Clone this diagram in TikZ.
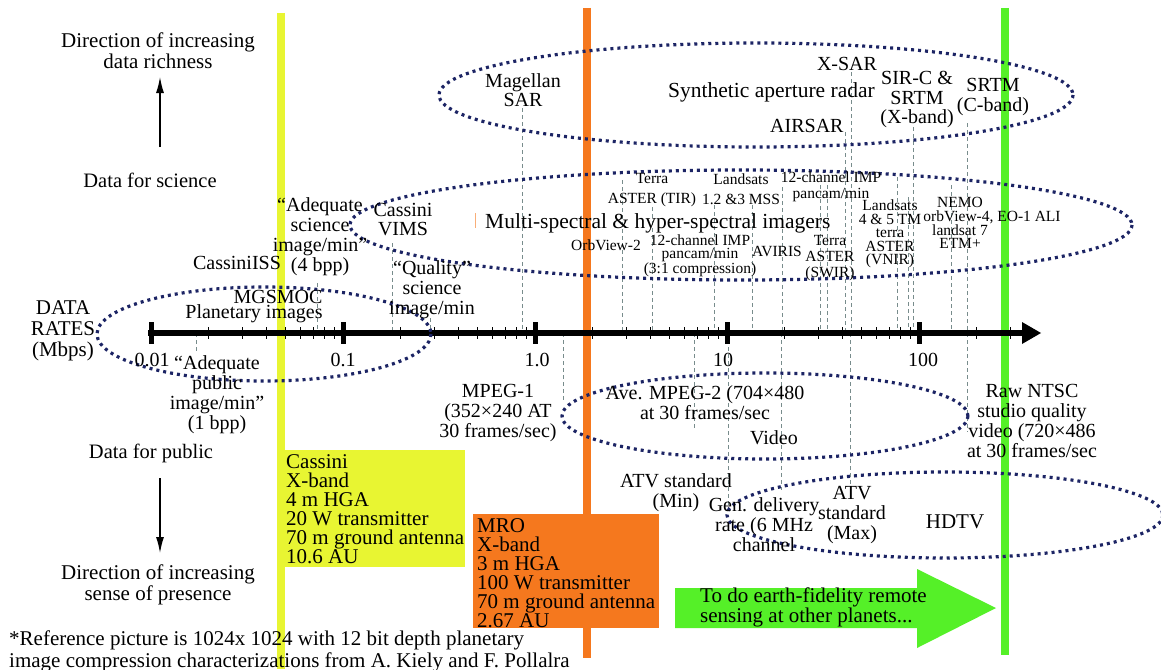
\documentclass[tikz,border=0pt]{standalone}
\usepackage{fontspec}
\setmainfont{Liberation Serif}
\usetikzlibrary{arrows.meta}
\definecolor{navy}{RGB}{28,36,100}
\definecolor{ylw}{RGB}{232,245,50}
\definecolor{org}{RGB}{245,120,30}
\definecolor{grn}{RGB}{85,240,40}
\definecolor{gridc}{RGB}{120,140,140}
\begin{document}
\begin{tikzpicture}[x=1pt,y=-1pt,
  lab/.style={inner sep=0pt, align=center, font=\fontsize{20}{20}\selectfont},
  labl/.style={inner sep=0pt, align=left, font=\fontsize{21}{19}\selectfont},
  big/.style={inner sep=0pt, font=\fontsize{21.5}{21}\selectfont},
  sm/.style={inner sep=0pt, align=center, font=\fontsize{15.5}{14}\selectfont},
  dotE/.style={draw=navy, line width=3.2pt, dash pattern=on 3pt off 4pt},
  guide/.style={draw=gridc, line width=0.9pt, dash pattern=on 4pt off 3pt},
  bar/.style={line width=7.5pt},
  dirarrow/.style={-{Latex[length=16pt,width=8pt]}, line width=1.3pt}]
\useasboundingbox (0,0) rectangle (1161,669);
\fill[white] (0,0) rectangle (1161,669);
% vertical bars
\coordinate (yb1) at (281,13);  \coordinate (yb2) at (281,669);
\coordinate (ob1) at (587,8);   \coordinate (ob2) at (587,658);
\coordinate (gb1) at (1005,8);  \coordinate (gb2) at (1005,655);
\draw[bar, ylw] (yb1) -- (yb2);
\draw[bar, org] (ob1) -- (ob2);
\draw[bar, grn] (gb1) -- (gb2);
% boxes
\fill[ylw] (283,450) rectangle (465,567);
\fill[org] (473,514) rectangle (659,628);
\fill[grn] (675,588) -- (917,588) -- (917,569) -- (996,608) -- (917,648) -- (917,628) -- (675,628) -- cycle;
% guide lines above axis
\foreach \x/\t in {317/283, 392/243, 430/318, 522/108, 622/180, 652/207, 714/205, 752/205, 782/187, 820/185, 827/185, 845/132, 851/72, 897/177, 908/197, 913/127, 951/185}
  \draw[guide] (\x,\t) -- (\x,333);
% guide lines below axis
\foreach \x/\b in {196/352, 563/400, 694/430, 728/510, 781/490, 850/487}
  \draw[guide] (\x,333) -- (\x,\b);
\draw[guide] (967,123) -- (967,432);
\draw[org!60, line width=0.8pt] (475,213) -- (475,228);
% axis
\coordinate (ax0) at (148,333); \coordinate (ax1) at (1023,333);
\draw[line width=6.5pt] (ax0) -- (ax1);
\fill (1022,322) -- (1041,333) -- (1022,344) -- cycle;
\foreach \d in {0,...,4} \fill ({151+192*\d-2.5},322) rectangle ++(5,22);
\foreach \d in {0,...,3} \foreach \m in {2,...,9} {
  \pgfmathsetmacro\xx{151+192*(\d+log10(\m))}
  \draw[line width=0.9pt] (\xx,327) -- (\xx,339);
}
\foreach \m in {2,3} {
  \pgfmathsetmacro\xx{151+192*(4+log10(\m))}
  \draw[line width=0.9pt] (\xx,327) -- (\xx,339);
}
% ellipses
\draw[dotE] (756,95) ellipse [x radius=317, y radius=52];
\draw[dotE] (741,225) ellipse [x radius=391, y radius=55];
\draw[dotE] (264,334) ellipse [x radius=167, y radius=47];
\draw[dotE] (765,416) ellipse [x radius=203, y radius=43];
\draw[dotE] (945,515) ellipse [x radius=218, y radius=43];
% left side labels
\node[lab, font=\fontsize{21}{21}\selectfont] (dirup) at (158,51) {Direction of increasing\\data richness};
\coordinate (upA) at (160,147); \coordinate (upB) at (160,77);
\draw[dirarrow] (upA) -- (upB);
\node[lab, font=\fontsize{20.5}{20}\selectfont] (sci) at (150,180) {Data for science};
\node[lab, font=\fontsize{21}{21}\selectfont] (rates) at (63,331) {DATA\\RATES\\(Mbps)};
\node[lab, font=\fontsize{20.5}{20}\selectfont] (pub) at (151,453) {Data for public};
\coordinate (dnA) at (160,478); \coordinate (dnB) at (160,553);
\draw[dirarrow] (dnA) -- (dnB);
\node[lab, font=\fontsize{21}{21}\selectfont] (dirdn) at (158,585) {Direction of increasing\\sense of presence};
% tick labels
\node[lab] (t1) at (152,360) {0.01};
\node[lab] (t2) at (343,360) {0.1};
\node[lab] (t3) at (537,360) {1.0};
\node[lab] (t4) at (723,360) {10};
\node[lab] (t5) at (923,360) {100};
% data labels
\node[lab] (adqsci) at (320,237) {“Adequate\\science\\image/min”\\(4 bpp)};
\node[lab, font=\fontsize{20}{19}\selectfont] (vims) at (403,219.5) {Cassini\\VIMS};
\node[lab] (iss) at (237,263) {CassiniISS};
\node[lab] (mgs) at (278,297) {MGSMOC};
\node[lab] (plan) at (254,314) {Planetary images};
\node[lab] (qual) at (432,290) {“Quality”\\science\\image/min};
\node[lab, font=\fontsize{20}{19}\selectfont] (mag) at (523,90.5) {Magellan\\SAR};
\node[big, anchor=west] (sar) at (668,92) {Synthetic aperture radar};
\node[lab, anchor=west] (airsar) at (770,126) {AIRSAR};
\node[lab] (xsar) at (847,64) {X-SAR};
\node[lab, font=\fontsize{20}{19.5}\selectfont] (sirc) at (917,99.5) {SIR-C \&\\SRTM\\(X-band)};
\node[lab] (srtmc) at (993,97) {SRTM\\(C-band)};
\node[big, anchor=west] (msi) at (485,223) {Multi-spectral \& hyper-spectral imagers};
% small labels
\node[sm, font=\fontsize{15.5}{20}\selectfont] (terra1) at (652,190) {Terra\\ASTER (TIR)};
\node[sm, font=\fontsize{15.5}{20}\selectfont] (land13) at (741,189) {Landsats\\1.2 \&3 MSS};
\node[sm, font=\fontsize{15.5}{16}\selectfont] (imp1) at (831,187) {12-channel IMP\\pancam/min};
\node[sm] (orb2) at (606,245) {OrbView-2};
\node[sm, font=\fontsize{15.5}{13}\selectfont] (imp2) at (700,256) {12-channel IMP\\pancam/min\\(3:1 compression)};
\node[sm] (aviris) at (777,251) {AVIRIS};
\node[sm, font=\fontsize{15.5}{16}\selectfont] (terra2) at (830,258) {Terra\\ASTER\\(SWIR)};
\node[sm, font=\fontsize{15.5}{13.5}\selectfont] (land45) at (890,234) {Landsats\\4 \& 5 TM\\terra\\ASTER\\(VNIR)};
\node[sm] (nemo) at (960,202) {NEMO};
\node[sm] (orbv4) at (992,217) {orbView-4, EO-1 ALI};
\node[sm] (l7) at (960,230) {landsat 7};
\node[sm] (etm) at (960,243) {ETM+};
% below axis labels
\node[lab] (adqpub) at (217,395) {“Adequate\\public\\image/min”\\(1 bpp)};
\node[lab] (mpeg1) at (498,413) {MPEG-1\\(352×240 AT\\30 frames/sec)};
\node[lab] (mpeg2) at (705,403) {Ave. MPEG-2 (704×480\\at 30 frames/sec};
\node[lab] (video) at (774,438) {Video};
\node[lab] (ntsc) at (1032,420.5) {Raw NTSC\\studio quality\\video (720×486\\at 30 frames/sec};
\node[lab] (atvmin) at (676,493) {ATV standard\\(Min)};
\node[lab] (gen) at (764,525) {Gen. delivery\\rate (6 MHz\\channel};
\node[lab] (atvmax) at (852,515) {ATV\\standard\\(Max)};
\node[lab, font=\fontsize{21}{21}\selectfont] (hdtv) at (955,522) {HDTV};
% boxes text
\node[labl, anchor=west] (cas) at (286,509.5) {Cassini\\X-band\\4 m HGA\\20 W transmitter\\70 m ground antenna\\10.6 AU};
\node[labl, anchor=west] (mro) at (477,573) {MRO\\X-band\\3 m HGA\\100 W transmitter\\70 m ground antenna\\2.67 AU};
\node[labl, anchor=west] (earth) at (700,607.5) {To do earth-fidelity remote\\sensing at other planets...};
% footnote
\node[inner sep=0pt, anchor=base west, font=\fontsize{21}{22}\selectfont] (fn1) at (9,645) {*Reference picture is 1024x 1024 with 12 bit depth planetary};
\node[inner sep=0pt, anchor=base west, font=\fontsize{21}{22}\selectfont] (fn2) at (9,667) {image compression characterizations from A. Kiely and F. Pollalra};
\end{tikzpicture}
\end{document}
